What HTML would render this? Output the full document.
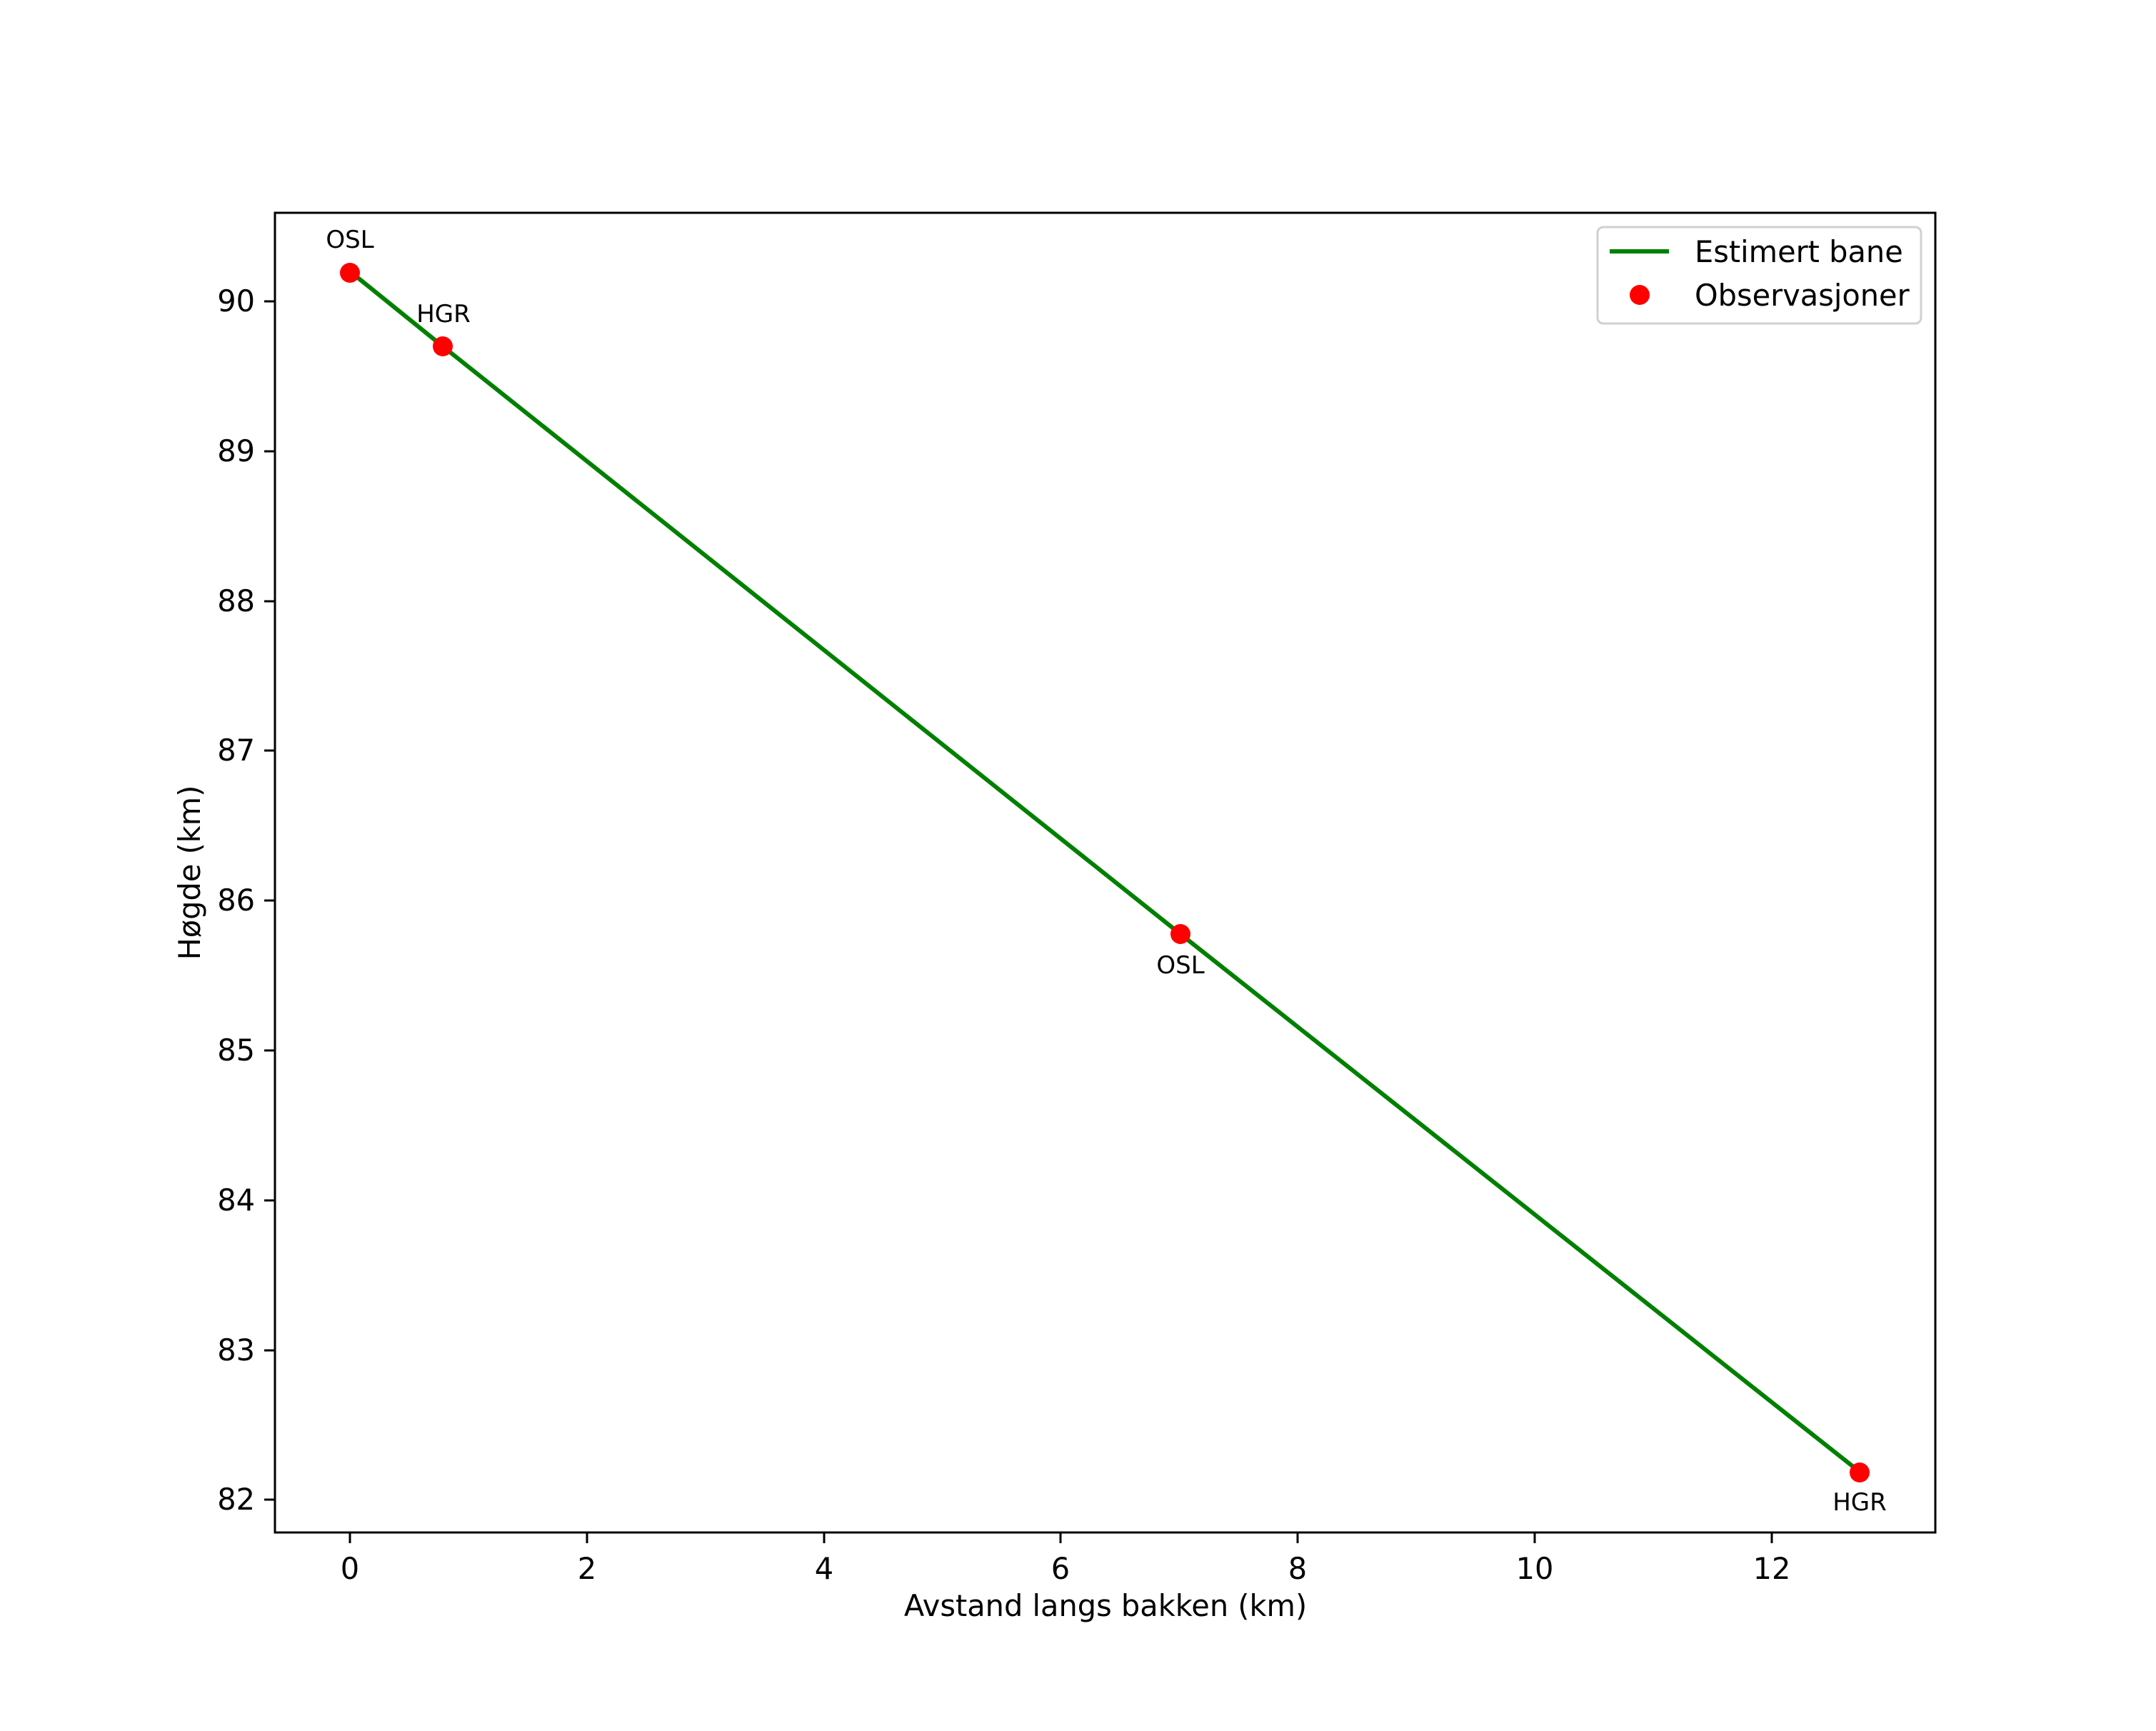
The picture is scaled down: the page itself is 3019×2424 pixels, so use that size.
<!DOCTYPE html>
<html><head><style>body{margin:0;background:#fff}</style></head><body>
<svg width="3019" height="2419" xmlns="http://www.w3.org/2000/svg" font-family="DejaVu Sans, Liberation Sans, sans-serif">
<rect width="3019" height="2419" fill="#fff"/>
<polyline points="490,380 620,485 1653,1308 2604,2061" fill="none" stroke="#008000" stroke-width="6" stroke-linejoin="round"/>
<g fill="#ff0000">
<circle cx="490" cy="382" r="14"/><circle cx="620" cy="485" r="14"/><circle cx="1653" cy="1308" r="14"/><circle cx="2604" cy="2062" r="14"/>
</g>
<g font-size="34" text-anchor="middle" fill="#000">
<text x="490" y="347">OSL</text>
<text x="621" y="451">HGR</text>
<text x="1653" y="1363">OSL</text>
<text x="2604" y="2115">HGR</text>
</g>
<rect x="385" y="298" width="2325" height="1848" fill="none" stroke="#000" stroke-width="3"/>
<g stroke="#000" stroke-width="3">
<line x1="490" y1="2146" x2="490" y2="2161"/><line x1="822" y1="2146" x2="822" y2="2161"/><line x1="1154" y1="2146" x2="1154" y2="2161"/><line x1="1485" y1="2146" x2="1485" y2="2161"/><line x1="1817" y1="2146" x2="1817" y2="2161"/><line x1="2149" y1="2146" x2="2149" y2="2161"/><line x1="2481" y1="2146" x2="2481" y2="2161"/>
<line x1="370" y1="422" x2="385" y2="422"/><line x1="370" y1="632" x2="385" y2="632"/><line x1="370" y1="842" x2="385" y2="842"/><line x1="370" y1="1051" x2="385" y2="1051"/><line x1="370" y1="1261" x2="385" y2="1261"/><line x1="370" y1="1471" x2="385" y2="1471"/><line x1="370" y1="1681" x2="385" y2="1681"/><line x1="370" y1="1891" x2="385" y2="1891"/><line x1="370" y1="2100" x2="385" y2="2100"/>
</g>
<g font-size="41.5" text-anchor="middle" fill="#000">
<text x="490" y="2211">0</text><text x="822" y="2211">2</text><text x="1154" y="2211">4</text><text x="1485" y="2211">6</text><text x="1817" y="2211">8</text><text x="2149" y="2211">10</text><text x="2481" y="2211">12</text>
</g>
<g font-size="41.5" text-anchor="end" fill="#000">
<text x="357" y="436">90</text><text x="357" y="646">89</text><text x="357" y="856">88</text><text x="357" y="1065">87</text><text x="357" y="1275">86</text><text x="357" y="1485">85</text><text x="357" y="1695">84</text><text x="357" y="1905">83</text><text x="357" y="2114">82</text>
</g>
<text x="1548" y="2263" font-size="41.5" text-anchor="middle">Avstand langs bakken (km)</text>
<text transform="translate(280,1222) rotate(-90)" font-size="41.5" text-anchor="middle">Høgde (km)</text>
<rect x="2237" y="318" width="453" height="135" rx="8" fill="#fff" fill-opacity="0.8" stroke="#d0d0d0" stroke-width="3"/>
<line x1="2254" y1="352" x2="2337" y2="352" stroke="#008000" stroke-width="6"/>
<circle cx="2296" cy="413" r="14" fill="#ff0000"/>
<text x="2373" y="367" font-size="41.5">Estimert bane</text>
<text x="2373" y="428" font-size="41.5">Observasjoner</text>
</svg>
</body></html>
